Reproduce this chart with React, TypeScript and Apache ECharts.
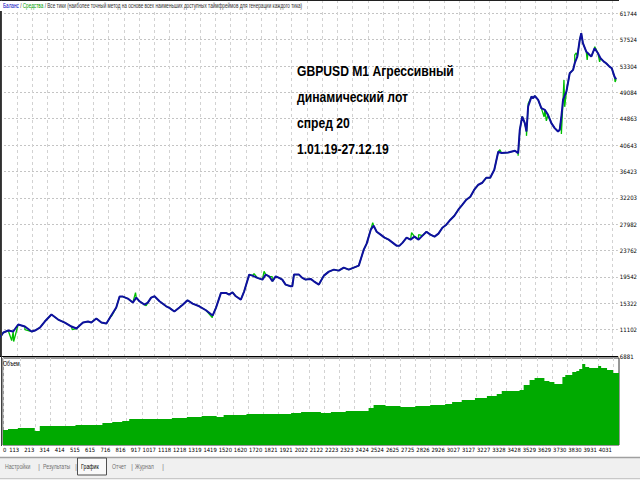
import React, { useEffect, useRef } from "react";
import * as echarts from "echarts";

const FONT = '"Liberation Sans Narrow", "DejaVu Sans Condensed", "Liberation Sans", sans-serif';
const PLAIN = '"Liberation Sans", Arial, sans-serif';

const xTickValues = [0, 113, 213, 314, 414, 515, 615, 716, 816, 917, 1017, 1118, 1218, 1319, 1419, 1520, 1620, 1720, 1821, 1921, 2022, 2122, 2223, 2323, 2424, 2524, 2625, 2725, 2826, 2926, 3027, 3127, 3227, 3328, 3428, 3529, 3629, 3730, 3830, 3931, 4031];
const xTickLabels = xTickValues.map(String);
const yTickValues = [6881, 11102, 15322, 19542, 23762, 27982, 32203, 36423, 40643, 44863, 49084, 53304, 57524, 61744];

const balance: [number, number][] = [
  [0, 9838], [22, 10638], [54, 10957], [87, 10797], [120, 11917], [164, 11597], [208, 10797], [230, 10957],
  [263, 11437], [295, 12396], [339, 13515], [383, 12716], [427, 12236], [471, 11597], [504, 11277], [525, 11757],
  [547, 12236], [580, 12396], [602, 12236], [635, 12876], [668, 12236], [701, 12076], [733, 13355], [766, 14634],
  [788, 16393], [810, 16393], [842, 16073], [875, 15434], [898, 16233], [919, 15641], [952, 15114], [974, 15434],
  [996, 16233], [1018, 16441], [1051, 15641], [1095, 14842], [1116, 14586], [1149, 13995], [1182, 14634], [1202, 15034],
  [1236, 15801], [1269, 15274], [1313, 14842], [1357, 14203], [1401, 13355], [1423, 14586], [1456, 16984], [1489, 16984],
  [1510, 16713], [1532, 17080], [1554, 16441], [1587, 15913], [1609, 17240], [1642, 19909], [1663, 19749], [1696, 19382],
  [1729, 19110], [1751, 19909], [1773, 19638], [1795, 18839], [1817, 19638], [1839, 19382], [1860, 19110], [1882, 18311],
  [1915, 18039], [1926, 18039], [1937, 19909], [1970, 19909], [1992, 19382], [2014, 19110], [2047, 19222], [2068, 18839],
  [2101, 18311], [2134, 19749], [2167, 20388], [2200, 20708], [2232, 20548], [2265, 21029], [2298, 20708], [2331, 21029],
  [2364, 21349], [2397, 23906], [2416, 24866], [2443, 27104], [2462, 27743], [2482, 26784], [2508, 26305], [2534, 25825],
  [2561, 25505], [2587, 25026], [2613, 24546], [2633, 24546], [2653, 25026], [2679, 25825], [2705, 25505], [2731, 25985],
  [2758, 25505], [2784, 26145], [2810, 26784], [2836, 26305], [2863, 25985], [2889, 26465], [2915, 27424], [2941, 27904],
  [2968, 28704], [2994, 29343], [3020, 30302], [3047, 31100], [3073, 31900], [3099, 32379], [3125, 33499], [3152, 34298],
  [3178, 34618], [3204, 35417], [3230, 35417], [3257, 36695], [3283, 39573], [3305, 39364], [3349, 39460], [3393, 39733],
  [3414, 39365], [3425, 43090], [3441, 45216], [3458, 44161], [3469, 42818], [3480, 46815], [3502, 48413], [3513, 48157],
  [3524, 48525], [3546, 47886], [3567, 46559], [3590, 46287], [3611, 45487], [3633, 44161], [3655, 43362], [3677, 42818],
  [3688, 43090], [3699, 45216], [3710, 47885], [3732, 49212], [3754, 52154], [3776, 52681], [3787, 53752], [3804, 54808],
  [3820, 57477], [3830, 58548], [3841, 56950], [3863, 55607], [3874, 55351], [3896, 54808], [3918, 56150], [3940, 55351],
  [3957, 54552], [3979, 54008], [3994, 53752], [4016, 53209], [4031, 52953], [4049, 51610], [4060, 51194]
];

const equitySpikes: [number, number][] = [
  [77, 9359], [90, 9200], [164, 11117], [476, 11117], [624, 12716], [733, 13195], [893, 17032], [963, 14954],
  [1193, 14954], [1399, 13036], [1674, 20069], [1740, 20436], [1793, 19590], [2456, 28223], [2712, 26624], [2758, 26305],
  [3294, 39893], [3414, 38928], [3469, 42122], [3480, 47244], [3585, 45155], [3600, 44520], [3699, 42433], [3716, 51082],
  [3721, 46766], [3787, 55079], [3797, 55400], [3869, 54280], [3918, 56407], [3951, 53961], [4053, 50763]
];

const volume: [number, number][] = [
  [0, 1.5], [33, 1.6], [98, 1.7], [210, 1.4], [243, 1.9], [479, 2.0], [657, 2.2], [722, 2.3], [788, 2.4], [834, 2.6],
  [1116, 2.7], [1215, 2.8], [1313, 2.9], [1412, 2.8], [1458, 3.0], [1609, 3.1], [1904, 3.2], [1970, 3.3], [2101, 3.2],
  [2167, 3.3], [2265, 3.4], [2416, 3.7], [2449, 4.0], [2528, 3.9], [2626, 3.8], [2725, 3.9], [2823, 4.0], [2922, 4.1],
  [2968, 4.3], [3033, 4.5], [3119, 4.7], [3198, 4.9], [3263, 5.1], [3296, 5.4], [3414, 5.5], [3441, 6.0], [3480, 6.5],
  [3513, 6.7], [3578, 6.4], [3611, 6.3], [3644, 6.1], [3697, 6.8], [3716, 7.0], [3762, 7.3], [3789, 7.4], [3808, 7.6],
  [3828, 8.1], [3848, 7.8], [3874, 7.7], [3933, 7.9], [3953, 7.7], [3992, 7.5], [4032, 7.2], [4071, 7.2]
];

const annotationLines = ["GBPUSD M1 Агрессивный", "динамический лот", "спред 20", "1.01.19-27.12.19"];
const legendParts = ["Баланс", " / ", "Средства", " / Все тики (наиболее точный метод на основе всех наименьших доступных таймфреймов для генерации каждого тика)"];
const volumeTitle = "Объем";
const tabs = ["Настройки", "Результаты", "График", "Отчет", "Журнал"];

const X_MAX = 4071;

function buildOption() {
  const equity = [...balance, ...equitySpikes].sort((a, b) => a[0] - b[0]);
  const annotationY = [71, 97.5, 123.5, 149.5];
  const tabX = [5, 43, 81, 112, 135];
  const sepX = [38, 75, 131, 162];

  const graphic: any[] = [
    { type: "line", shape: { x1: 0, y1: 0.5, x2: 619, y2: 0.5 }, style: { stroke: "#202020", lineWidth: 1 }, z: 10 },
    { type: "line", shape: { x1: 1.5, y1: 0, x2: 1.5, y2: 446 }, style: { stroke: "#404040", lineWidth: 1 }, z: 10 },
    { type: "rect", shape: { x: 0, y: 1, width: 292, height: 10 }, style: { fill: "#ffffff" }, z: 11 },
    {
      type: "text", x: 3, y: 6, z: 12, scaleX: 0.665,
      style: {
        text: `{b|${legendParts[0]}}{g|${legendParts[1]}}{e|${legendParts[2]}}{g|${legendParts[3]}}`,
        verticalAlign: "middle",
        rich: {
          b: { fill: "#0000c0", fontSize: 7, fontFamily: PLAIN },
          e: { fill: "#00a000", fontSize: 7, fontFamily: PLAIN },
          g: { fill: "#303030", fontSize: 7, fontFamily: PLAIN }
        }
      }
    },
    { type: "text", x: 3, y: 363, z: 12, scaleX: 0.75, style: { text: volumeTitle, fill: "#000", fontSize: 7, fontFamily: PLAIN, verticalAlign: "middle" } },
    { type: "rect", shape: { x: 0, y: 457, width: 640, height: 23 }, style: { fill: "#f0f0f0" }, z: 10 },
    { type: "line", shape: { x1: 0, y1: 457.5, x2: 640, y2: 457.5 }, style: { stroke: "#a0a0a0", lineWidth: 1.5 }, z: 11 },
    { type: "line", shape: { x1: 0, y1: 478.5, x2: 640, y2: 478.5 }, style: { stroke: "#c8c8c8", lineWidth: 1 }, z: 11 },
    { type: "rect", shape: { x: 77.5, y: 458, width: 29, height: 17 }, style: { fill: "#f9f9f9", stroke: "#505050", lineWidth: 1 }, z: 11 },
    ...annotationLines.map((t, i) => ({
      type: "text", x: 297, y: annotationY[i], z: 20, scaleX: 0.81,
      style: { text: t, fill: "#000", font: `bold 15px ${PLAIN}`, verticalAlign: "middle" }
    })),
    ...tabs.map((t, i) => ({
      type: "text", x: tabX[i], y: 466.5, z: 12, scaleX: 0.74,
      style: { text: t, fill: i === 2 ? "#000" : "#707070", fontSize: 7, fontFamily: PLAIN, verticalAlign: "middle" }
    })),
    ...sepX.map((x) => ({
      type: "text", x, y: 466.5, z: 12,
      style: { text: "|", fill: "#909090", fontSize: 8, fontFamily: PLAIN, verticalAlign: "middle" }
    }))
  ];

  return {
    animation: false,
    backgroundColor: "#ffffff",
    textStyle: { fontFamily: FONT },
    grid: [
      { left: -1, top: 0, width: 620, height: 356, show: false },
      { left: -1, top: 358, width: 620, height: 87, show: true, borderColor: "#303030", borderWidth: 1, backgroundColor: "#fff" }
    ],
    xAxis: [
      {
        type: "value", gridIndex: 0, min: 0, max: X_MAX,
        axisLine: { show: true, onZero: false, lineStyle: { color: "#000", width: 1 } },
        axisTick: { show: false, customValues: xTickValues },
        axisLabel: { show: false },
        splitLine: { show: true, lineStyle: { color: "#d2d2d2", type: [3, 3], width: 1 } }
      },
      {
        type: "value", gridIndex: 1, min: 0, max: X_MAX,
        axisLine: { show: false },
        axisTick: { show: false, customValues: xTickValues },
        axisLabel: {
          show: true, customValues: xTickValues, margin: 2, align: "right", padding: [0, 1, 0, 0],
          alignMinLabel: "left",
          fontSize: 5.8, color: "#000", fontFamily: FONT,
          formatter: (v: number) => {
            const i = xTickValues.indexOf(Math.round(v));
            return i >= 0 ? xTickLabels[i] : "";
          }
        },
        splitLine: { show: true, lineStyle: { color: "#d2d2d2", type: [3, 3], width: 1 } }
      }
    ],
    yAxis: [
      {
        type: "value", gridIndex: 0, min: 6881, max: 63872, position: "right",
        axisLine: { show: true, lineStyle: { color: "#303030", width: 1 } },
        axisTick: { show: false, customValues: yTickValues },
        axisLabel: {
          show: true, customValues: yTickValues, margin: 2, fontSize: 6, color: "#000", fontFamily: FONT,
          formatter: (v: number) => String(Math.round(v))
        },
        splitLine: { show: true, lineStyle: { color: "#c4c4c4", type: [2, 2], width: 1 } }
      },
      {
        type: "value", gridIndex: 1, min: 0, max: 8.7, position: "right",
        axisLine: { show: false }, axisTick: { show: false }, axisLabel: { show: false }, splitLine: { show: false }
      }
    ],
    series: [
      {
        type: "line", name: "Средства", xAxisIndex: 0, yAxisIndex: 0, data: equity, symbol: "none",
        lineStyle: { color: "#00c000", width: 1.3 }, z: 3
      },
      {
        type: "line", name: "Баланс", xAxisIndex: 0, yAxisIndex: 0, data: balance, symbol: "none",
        lineStyle: { color: "#0f0fa0", width: 2 }, z: 4
      },
      {
        type: "line", name: "Объем", xAxisIndex: 1, yAxisIndex: 1, data: volume, symbol: "none", step: "end",
        lineStyle: { width: 0, color: "#00aa00" }, areaStyle: { color: "#00aa00", opacity: 1 }, z: 3
      }
    ],
    graphic
  };
}

export default function App() {
  const ref = useRef<HTMLDivElement>(null);
  useEffect(() => {
    if (!ref.current) return;
    const chart = echarts.init(ref.current, null, { renderer: "svg" });
    chart.setOption(buildOption() as any);
    return () => chart.dispose();
  }, []);
  return (
    <div
      ref={ref}
      style={{ position: "fixed", left: 0, top: 0, width: 640, height: 480, background: "#fff" }}
    />
  );
}
